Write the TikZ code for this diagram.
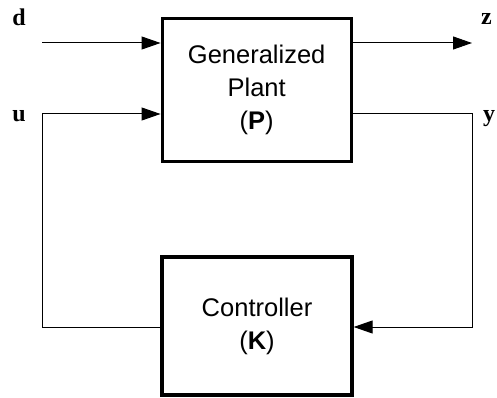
\documentclass[tikz,border=0pt]{standalone}
\usepackage{fontspec}
\setmainfont{Liberation Sans}
\newfontfamily\labelfont{Liberation Serif}
\usetikzlibrary{arrows.meta}
\begin{document}
\begin{tikzpicture}[x=1pt,y=-1pt,
  blockbox/.style={draw=black,line width=3.3pt,rectangle,inner sep=0pt,
    align=center,font=\fontsize{25.5}{33}\selectfont},
  sig/.style={line width=1pt,-{Triangle[length=19pt,width=13pt]}},
  wire/.style={line width=1pt},
  siglabel/.style={font=\labelfont\bfseries\fontsize{24}{28}\selectfont,inner sep=0pt}]
\useasboundingbox (0,0) rectangle (497,398);
\node[blockbox,minimum width=189pt,minimum height=143pt] (plant) at (256.7,90.3)
  {Generalized\\Plant\\(\textbf{P})};
\node[blockbox,minimum width=190pt,minimum height=138pt] (ctrl) at (257,326)
  {Controller\\(\textbf{K})};
\coordinate (dstart) at (42,43);
\coordinate (zend) at (472,43);
\coordinate (ul) at (42,114);
\coordinate (ulb) at (42,327);
\coordinate (yr) at (472,114);
\coordinate (yrb) at (472,327);
\draw[sig] (dstart) -- (plant.west |- dstart);
\draw[sig] (plant.east |- zend) -- (zend);
\draw[sig] (ctrl.west |- ulb) -- (ulb) -- (ul) -- (plant.west |- ul);
\draw[sig] (plant.east |- yr) -- (yr) -- (yrb) -- (ctrl.east |- yrb);
\node[siglabel,anchor=base] (dl) at (19,26) {d};
\node[siglabel,anchor=base] (ulab) at (19,122) {u};
\node[siglabel,anchor=base west] (zl) at (481,25) {z};
\node[siglabel,anchor=base west] (yl) at (483,122) {y};
\end{tikzpicture}
\end{document}
